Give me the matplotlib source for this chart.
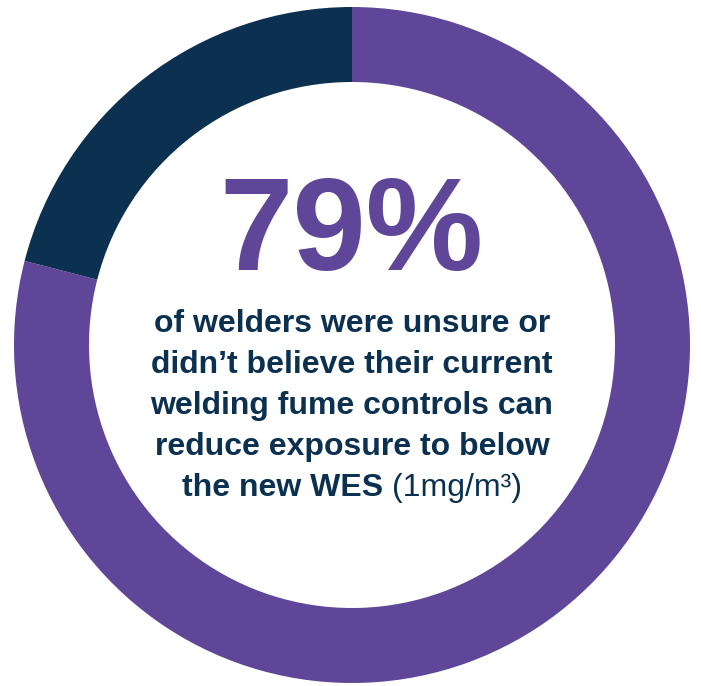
import matplotlib
matplotlib.use("Agg")
import matplotlib.pyplot as plt

# share of welders unsure / not believing vs the rest
labels = ["Unsure or didn't believe", "Believed"]
shares = [79, 21]
colors = ["#5F4699", "#0B3050"]

headline = "79%"
body_lines = [
    "of welders were unsure or",
    "didn\u2019t believe their current",
    "welding fume controls can",
    "reduce exposure to below",
]
last_bold = "the new WES "
last_light = "(1mg/m\u00b3)"

W, H = 701, 686
fig = plt.figure(figsize=(W / 100, H / 100), dpi=100)
ax = fig.add_axes([0, 0, 1, 1])

ax.pie(shares, colors=colors, startangle=90, counterclock=False,
       center=(352, H - 345), radius=338,
       wedgeprops=dict(width=75, linewidth=0))
ax.set_xlim(0, W)
ax.set_ylim(0, H)
ax.set_aspect("equal")
ax.axis("off")

fam = ["Liberation Sans", "DejaVu Sans"]
ax.text(351, H - 270, headline, ha="center", va="baseline",
        fontsize=95, fontweight="bold", color=colors[0], family=fam)

baselines = [332, 373, 414, 455]
for y, line in zip(baselines, body_lines):
    ax.text(352, H - y, line, ha="center", va="baseline",
            fontsize=23, fontweight="bold", color=colors[1], family=fam)

t = ax.text(182, H - 496, last_bold, ha="left", va="baseline",
            fontsize=23, fontweight="bold", color=colors[1], family=fam)
ax.annotate(last_light, xy=(1, 0), xycoords=t, ha="left", va="bottom",
            fontsize=23, color=colors[1], family=fam)

fig.savefig("out.png", dpi=100, facecolor="white")
